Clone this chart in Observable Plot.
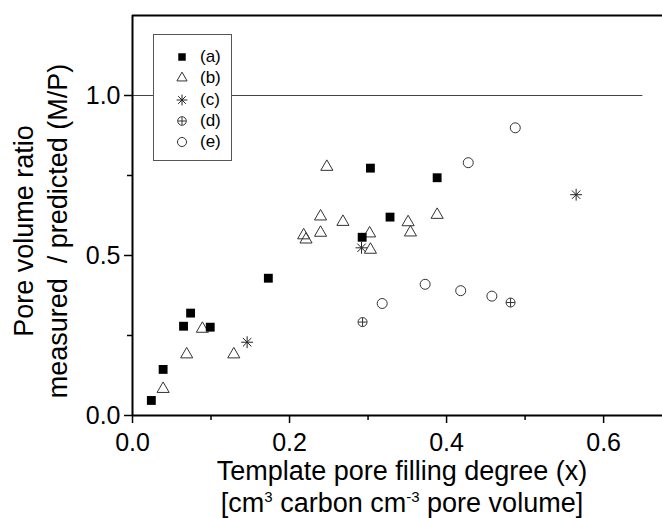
<!DOCTYPE html>
<html><head><meta charset="utf-8">
<script src="https://cdn.jsdelivr.net/npm/d3@7"></script>
<script src="https://cdn.jsdelivr.net/npm/@observablehq/plot@0.6"></script>
<style>
html,body{margin:0;padding:0;background:#fff;overflow:hidden}
#wrap{position:relative;width:662px;height:518px;font-family:"Liberation Sans",Arial,sans-serif}
#legend{position:absolute;left:153px;top:34px;width:77px;height:125px;border:1px solid #555;background:#fff}
#legend .row{position:absolute;left:0;height:20px;display:flex;align-items:center;font-size:17px;color:#000}
#legend svg{display:block}
</style></head><body><div id="wrap"></div>
<script>
// (a) filled squares
const seriesA_x = [0.024, 0.039, 0.065, 0.074, 0.099, 0.173, 0.2925, 0.303, 0.328, 0.388];
const seriesA_y = [0.047, 0.144, 0.279, 0.320, 0.276, 0.429, 0.557, 0.773, 0.620, 0.743];
// (b) open triangles
const seriesB_x = [0.039, 0.069, 0.089, 0.129, 0.218, 0.221, 0.2395, 0.2395, 0.2475, 0.268, 0.302, 0.303, 0.351, 0.354, 0.388];
const seriesB_y = [0.083, 0.191, 0.271, 0.191, 0.563, 0.550, 0.622, 0.571, 0.777, 0.605, 0.569, 0.518, 0.604, 0.572, 0.627];
// (c) asterisks
const seriesC_x = [0.146, 0.2917, 0.565];
const seriesC_y = [0.229, 0.524, 0.690];
// (d) crossed circles
const seriesD_x = [0.293, 0.4815];
const seriesD_y = [0.292, 0.353];
// (e) open circles
const seriesE_x = [0.318, 0.3727, 0.418, 0.4577, 0.4276, 0.4875];
const seriesE_y = [0.350, 0.410, 0.390, 0.373, 0.790, 0.899];

const legendLabels = ["(a)", "(b)", "(c)", "(d)", "(e)"];
const xMajorTicks = [0, 0.2, 0.4, 0.6];
const xMinorTicks = [0.1, 0.3, 0.5];
const yMajorTicks = [0, 0.5, 1.0];
const yMinorTicks = [0.25, 0.75];
const referenceLine = [1.0];

const toRows = (xs, ys) => xs.map((x, i) => ({x, y: ys[i]}));
const dataA = toRows(seriesA_x, seriesA_y);
const dataB = toRows(seriesB_x, seriesB_y);
const dataC = toRows(seriesC_x, seriesC_y);
const dataD = toRows(seriesD_x, seriesD_y);
const dataE = toRows(seriesE_x, seriesE_y);

const font = '"Liberation Sans", Arial, sans-serif';
const fmt = d3.format(".1f");

const chart = Plot.plot({
  width: 662, height: 518,
  marginLeft: 132, marginRight: 0, marginTop: 15, marginBottom: 103,
  style: {fontFamily: font, fontSize: "25px", color: "#000", background: "#fff", overflow: "hidden"},
  x: {domain: [0, 0.675]},
  y: {domain: [0, 1.25]},
  marks: [
    Plot.ruleY(referenceLine, {x1: 0, x2: 0.65, stroke: "#444", strokeWidth: 1}),
    Plot.axisX(xMajorTicks, {tickSize: 8, tickPadding: 10, tickFormat: fmt, label: null, strokeWidth: 1.5, fontSize: 25}),
    Plot.axisX(xMinorTicks, {tickSize: 5, tickFormat: () => "", label: null, strokeWidth: 1.5}),
    Plot.axisY(yMajorTicks, {tickSize: 8, tickPadding: 4, tickFormat: fmt, label: null, strokeWidth: 1.5, fontSize: 25}),
    Plot.axisY(yMinorTicks, {tickSize: 5, tickFormat: () => "", label: null, strokeWidth: 1.5}),
    Plot.ruleX([0], {stroke: "#000", strokeWidth: 2}),
    Plot.ruleY([0], {stroke: "#000", strokeWidth: 2}),
    Plot.ruleY([1.25], {stroke: "#000", strokeWidth: 2}),
    Plot.dot(dataB, {x: "x", y: "y", symbol: "triangle", stroke: "#333", fill: "none", r: 4.5, strokeWidth: 1}),
    Plot.dot(dataE, {x: "x", y: "y", symbol: "circle", stroke: "#333", fill: "none", r: 5, strokeWidth: 1}),
    Plot.dot(dataD, {x: "x", y: "y", symbol: "circle", stroke: "#333", fill: "none", r: 4.5, strokeWidth: 1}),
    Plot.dot(dataD, {x: "x", y: "y", symbol: "plus", stroke: "#333", r: 2.9, strokeWidth: 1}),
    Plot.dot(dataC, {x: "x", y: "y", symbol: "plus", stroke: "#222", r: 3.9, strokeWidth: 1}),
    Plot.dot(dataC, {x: "x", y: "y", symbol: "times", stroke: "#222", r: 3.9, strokeWidth: 1}),
    Plot.dot(dataA, {x: "x", y: "y", symbol: "square", fill: "#000", r: 5})
  ]
});

const svg = d3.select(chart);
const yt = svg.append("text")
  .attr("transform", "translate(0,231) rotate(-90)")
  .attr("text-anchor", "middle")
  .attr("fill", "#000")
  .style("font-size", "27px").style("font-family", font);
yt.append("tspan").attr("x", 0).attr("y", 33).text("Pore volume ratio");
yt.append("tspan").attr("x", 0).attr("y", 67).text("measured  / predicted (M/P)");

const xt = svg.append("text")
  .attr("text-anchor", "middle")
  .attr("fill", "#000")
  .style("font-size", "27px").style("font-family", font);
xt.append("tspan").attr("x", 402).attr("y", 480).text("Template pore filling degree (x)");
const l2 = svg.append("text")
  .attr("text-anchor", "middle")
  .attr("fill", "#000")
  .attr("x", 402).attr("y", 512)
  .style("font-size", "27px").style("font-family", font);
l2.append("tspan").text("[cm");
l2.append("tspan").attr("dy", -10).style("font-size", "15px").text("3");
l2.append("tspan").attr("dy", 10).text(" carbon cm");
l2.append("tspan").attr("dy", -10).style("font-size", "15px").text("-3");
l2.append("tspan").attr("dy", 10).text(" pore volume]");

const wrap = document.getElementById("wrap");
wrap.appendChild(chart);

// legend
const legend = document.createElement("div");
legend.id = "legend";
wrap.appendChild(legend);
const legendSymbols = [
  [{type: d3.symbolSquare, size: 56, fill: "#000", stroke: "none"}],
  [{type: d3.symbolTriangle, size: 45, fill: "none", stroke: "#333"}],
  [{type: d3.symbolPlus, size: 40, fill: "none", stroke: "#222"}, {type: d3.symbolTimes, size: 40, fill: "none", stroke: "#222"}],
  [{type: d3.symbolCircle, size: 58, fill: "none", stroke: "#333"}, {type: d3.symbolPlus, size: 22, fill: "none", stroke: "#333"}],
  [{type: d3.symbolCircle, size: 64, fill: "none", stroke: "#333"}]
];
legendLabels.forEach((lab, i) => {
  const row = document.createElement("div");
  row.className = "row";
  row.style.top = (12 + i * 21.3) + "px";
  const s = d3.create("svg").attr("width", 46).attr("height", 20);
  legendSymbols[i].forEach(sym => {
    s.append("path").attr("transform", "translate(28,10)")
      .attr("d", d3.symbol(sym.type, sym.size)())
      .attr("fill", sym.fill).attr("stroke", sym.stroke).attr("stroke-width", 1);
  });
  row.appendChild(s.node());
  const t = document.createElement("span");
  t.textContent = lab;
  row.appendChild(t);
  legend.appendChild(row);
});
</script>
</body></html>
